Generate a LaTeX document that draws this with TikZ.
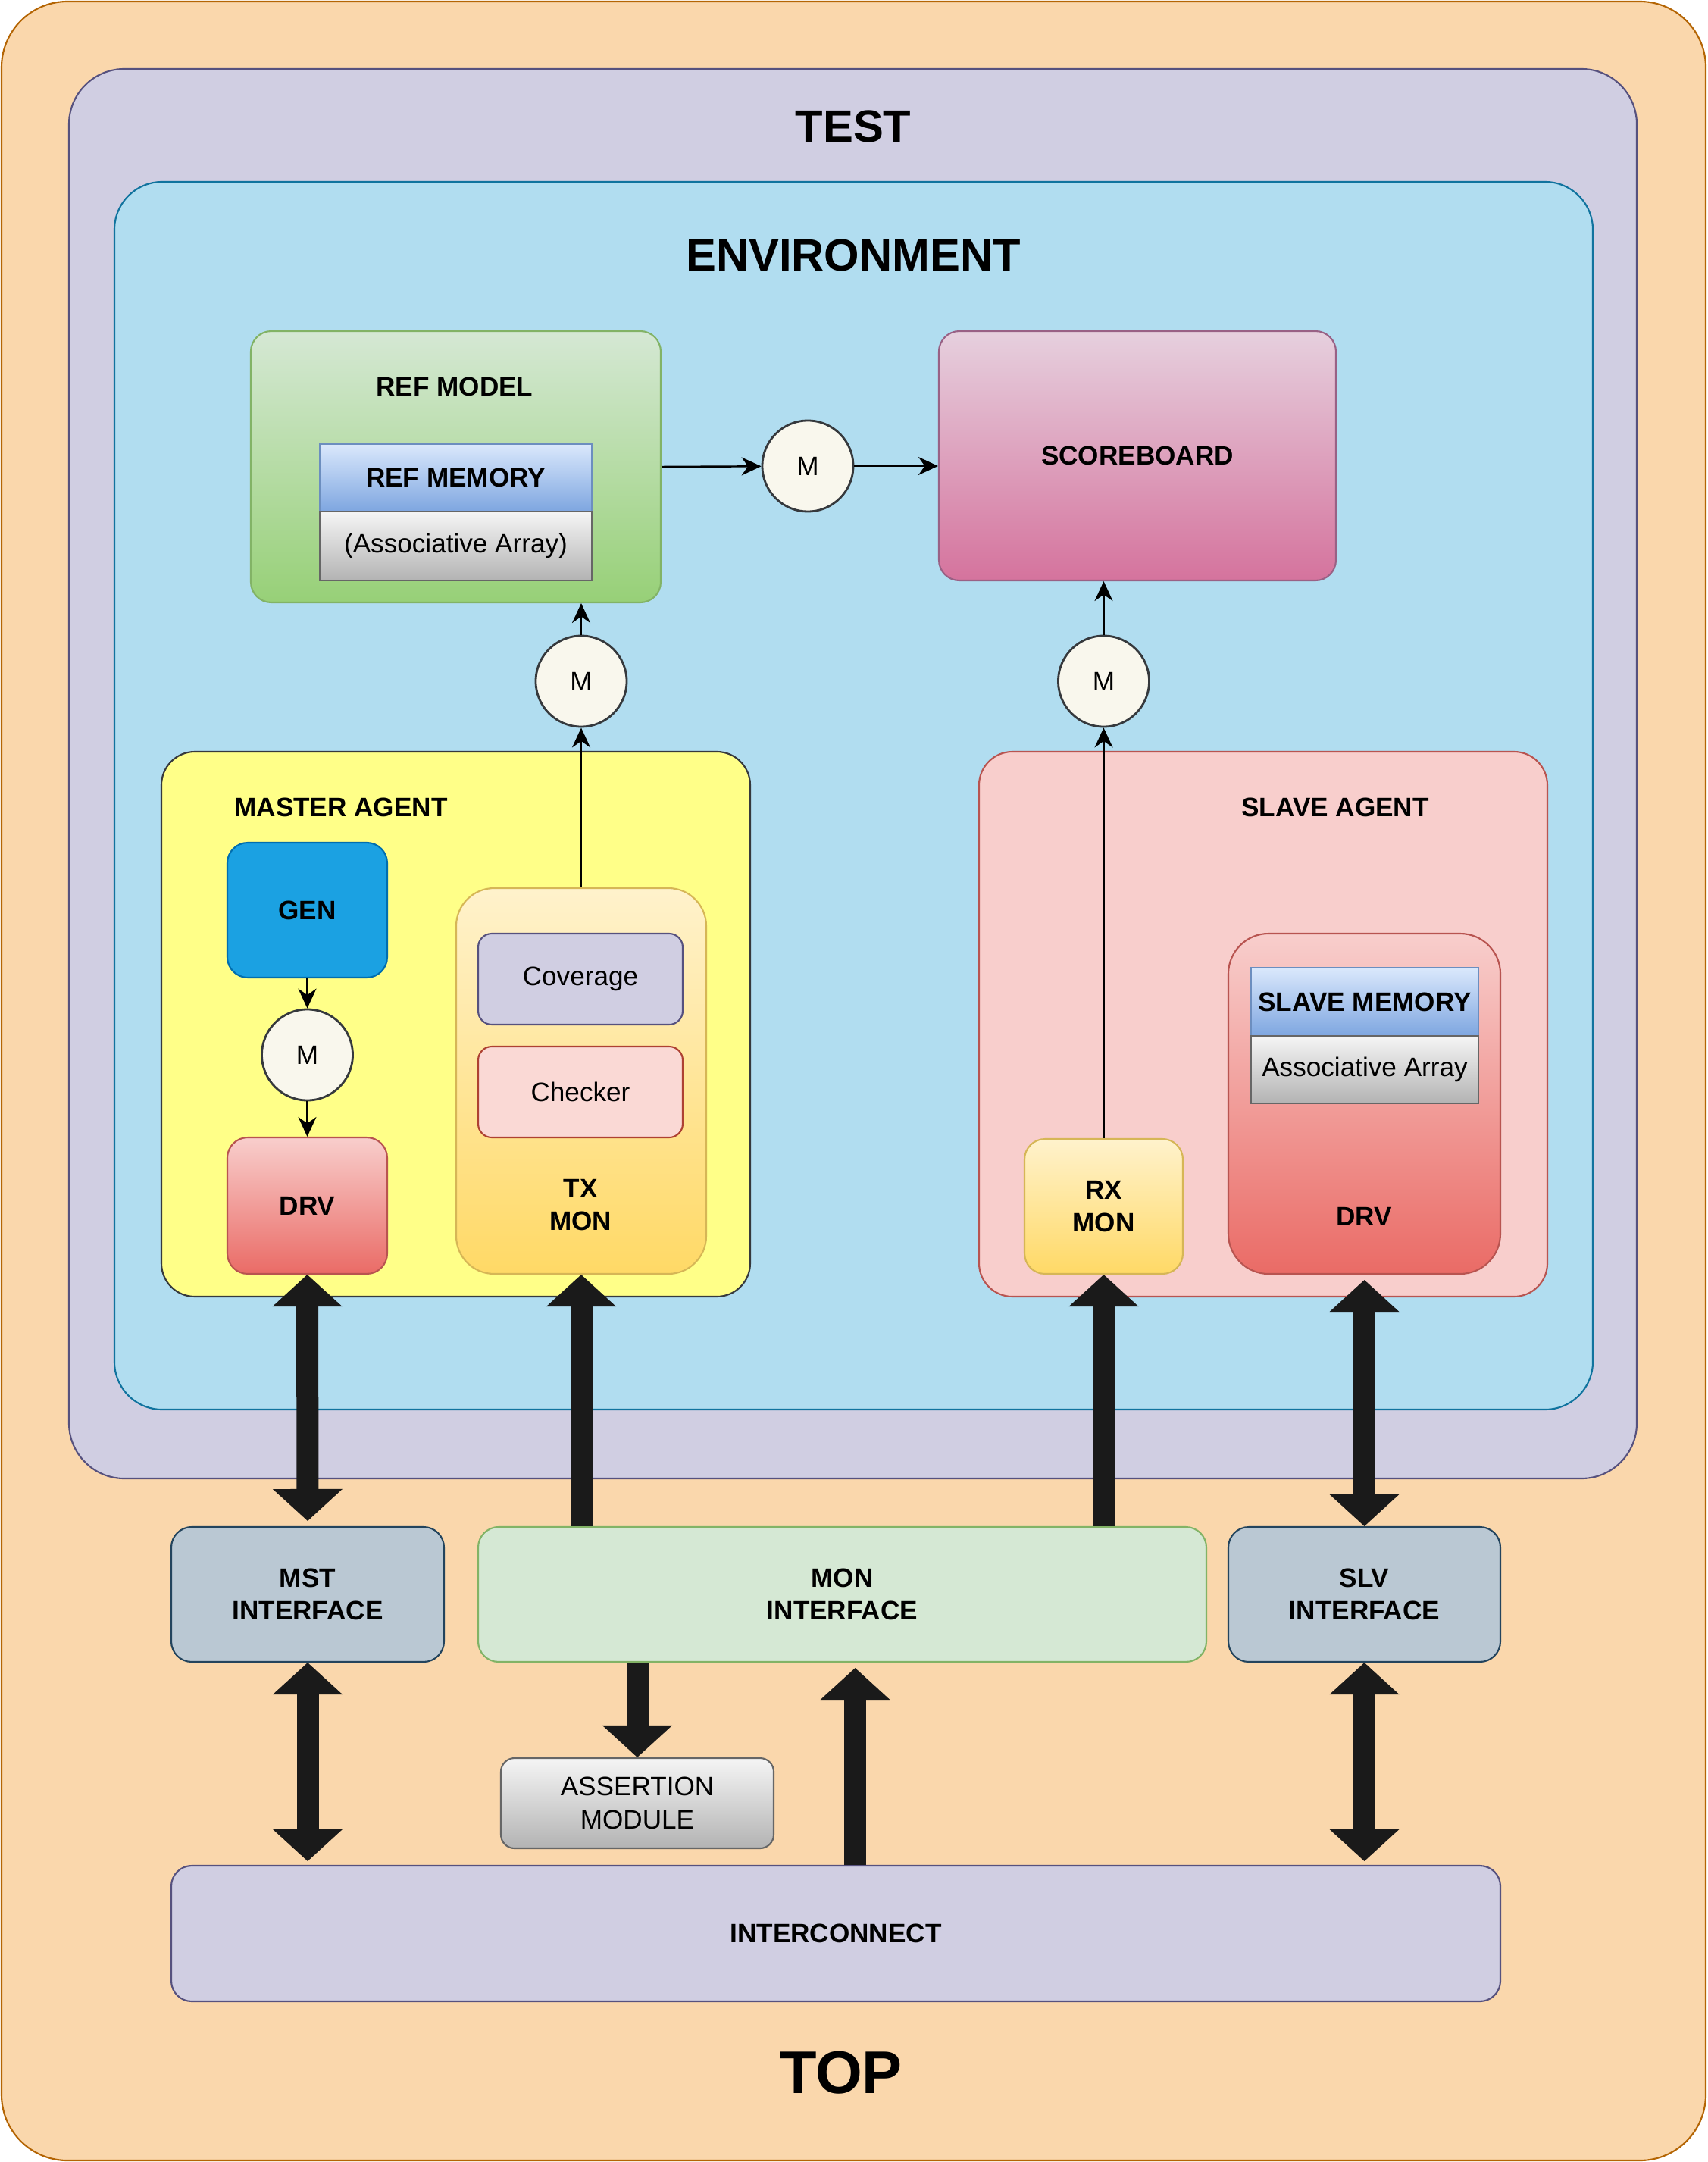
\documentclass[tikz,border=0pt]{standalone}
\usepackage{fontspec}
\setmainfont{Liberation Sans}
\usetikzlibrary{arrows.meta}
\definecolor{topfill}{HTML}{FAD7AC}
\definecolor{topline}{HTML}{B46504}
\definecolor{lilac}{HTML}{D0CEE2}
\definecolor{lilacline}{HTML}{56517E}
\definecolor{envfill}{HTML}{B1DDF0}
\definecolor{envline}{HTML}{10739E}
\definecolor{greentop}{HTML}{D5E8D4}
\definecolor{greenbot}{HTML}{97D077}
\definecolor{greenline}{HTML}{82B366}
\definecolor{bluetop}{HTML}{DAE8FC}
\definecolor{bluebot}{HTML}{7EA6E0}
\definecolor{blueline}{HTML}{6C8EBF}
\definecolor{greytop}{HTML}{F5F5F5}
\definecolor{greybot}{HTML}{B3B3B3}
\definecolor{greyline}{HTML}{666666}
\definecolor{pinktop}{HTML}{E6D0DE}
\definecolor{pinkbot}{HTML}{D5739D}
\definecolor{pinkline}{HTML}{996185}
\definecolor{yellowfill}{HTML}{FFFF88}
\definecolor{darkline}{HTML}{36393D}
\definecolor{genfill}{HTML}{1BA1E2}
\definecolor{genline}{HTML}{006EAF}
\definecolor{redtop}{HTML}{F8CECC}
\definecolor{redbot}{HTML}{EA6B66}
\definecolor{redline}{HTML}{B85450}
\definecolor{goldtop}{HTML}{FFF2CC}
\definecolor{goldbot}{HTML}{FFD966}
\definecolor{goldline}{HTML}{D6B656}
\definecolor{checkfill}{HTML}{FAD9D5}
\definecolor{checkline}{HTML}{AE4132}
\definecolor{slatefill}{HTML}{BAC8D3}
\definecolor{slateline}{HTML}{23445D}
\definecolor{circfill}{HTML}{F9F7ED}
\definecolor{busfill}{HTML}{1A1A1A}
\tikzset{
  box/.style={draw, line width=0.6pt, rounded corners=0.27cm, inner sep=0pt},
  sharpbox/.style={draw, line width=0.8pt, inner sep=0pt},
  lbl/.style={font=\fontsize{10}{12.4}\selectfont\bfseries, align=center},
  txt/.style={font=\fontsize{10}{12.4}\selectfont, align=center},
  headline/.style={font=\fontsize{17}{20}\selectfont\bfseries},
  mcirc/.style={circle, draw=darkline, fill=circfill, line width=0.8pt, minimum size=1.2cm, inner sep=0pt, txt},
  greenbox/.style={box, top color=greentop, bottom color=greenbot, draw=greenline},
  bluebox/.style={sharpbox, top color=bluetop, bottom color=bluebot, draw=blueline},
  greybox/.style={sharpbox, top color=greytop, bottom color=greybot, draw=greyline},
  redbox/.style={box, top color=redtop, bottom color=redbot, draw=redline},
  goldbox/.style={box, top color=goldtop, bottom color=goldbot, draw=goldline},
  flow/.style={line width=0.7pt, -{Stealth[length=0.26cm,width=0.24cm]}},
  bus/.style={line width=0.29cm, draw=busfill, -{Triangle[width=0.92cm,length=0.42cm,line width=0pt]}},
  busboth/.style={bus, {Triangle[width=0.92cm,length=0.42cm,line width=0pt]}-{Triangle[width=0.92cm,length=0.42cm,line width=0pt]}}
}
\begin{document}
\begin{tikzpicture}
\useasboundingbox (0,0) rectangle (22.53,-28.53);
\node[box, rounded corners=0.87cm, fill=topfill, draw=topline, minimum width=22.49cm, minimum height=28.49cm] (top) at (11.265,-14.265) {};
\node[box, rounded corners=0.73cm, fill=lilac, draw=lilacline, minimum width=20.69cm, minimum height=18.60cm] (test) at (11.255,-10.21) {};
\node[box, rounded corners=0.63cm, fill=envfill, draw=envline, minimum width=19.51cm, minimum height=16.20cm] (env) at (11.265,-10.50) {};
\node[headline] (testlbl) at (11.26,-1.67) {TEST};
\node[headline] (envlbl) at (11.26,-3.37) {ENVIRONMENT};
\node[font=\fontsize{22.6}{26}\selectfont\bfseries] (toplbl) at (11.10,-27.35) {TOP};
\node[greenbox, minimum width=5.41cm, minimum height=3.58cm] (refmodel) at (6.015,-6.16) {};
\node[lbl] (refmodellbl) at (6.00,-5.10) {REF MODEL};
\node[bluebox, lbl, minimum width=3.59cm, minimum height=0.89cm] (refmem) at (6.015,-6.305) {REF MEMORY};
\node[greybox, txt, minimum width=3.59cm, minimum height=0.91cm] (refarr) at (6.015,-7.205) {(Associative Array)};
\node[box, top color=pinktop, bottom color=pinkbot, draw=pinkline, lbl, minimum width=5.24cm, minimum height=3.29cm] (scoreboard) at (15.01,-6.015) {SCOREBOARD};
\node[mcirc] (m1) at (10.66,-6.15) {M};
\node[mcirc] (m2) at (7.67,-8.99) {M};
\node[mcirc] (m3) at (14.565,-8.99) {M};
\node[box, rounded corners=0.44cm, fill=yellowfill, draw=darkline, minimum width=7.77cm, minimum height=7.19cm] (master) at (6.015,-13.515) {};
\node[lbl] (masterlbl) at (4.50,-10.65) {MASTER AGENT};
\node[box, fill=genfill, draw=genline, lbl, minimum width=2.11cm, minimum height=1.78cm] (gen) at (4.055,-12.01) {GEN};
\node[mcirc] (m4) at (4.055,-13.92) {M};
\node[redbox, lbl, minimum width=2.11cm, minimum height=1.80cm] (drvm) at (4.055,-15.91) {DRV};
\node[goldbox, rounded corners=0.5cm, minimum width=3.30cm, minimum height=5.09cm] (txmon) at (7.67,-14.265) {};
\node[lbl] (txmonlbl) at (7.66,-15.90) {TX\\MON};
\node[box, rounded corners=0.18cm, fill=lilac, draw=lilacline, txt, minimum width=2.70cm, minimum height=1.20cm] (cov) at (7.66,-12.92) {Coverage};
\node[box, rounded corners=0.18cm, fill=checkfill, draw=checkline, txt, minimum width=2.70cm, minimum height=1.20cm] (chk) at (7.66,-14.41) {Checker};
\node[box, rounded corners=0.44cm, fill=redtop, draw=redline, minimum width=7.50cm, minimum height=7.19cm] (slave) at (16.67,-13.515) {};
\node[lbl] (slavelbl) at (17.62,-10.65) {SLAVE AGENT};
\node[goldbox, lbl, minimum width=2.09cm, minimum height=1.78cm] (rxmon) at (14.565,-15.92) {RX\\MON};
\node[redbox, rounded corners=0.53cm, minimum width=3.59cm, minimum height=4.49cm] (drvs) at (18.005,-14.565) {};
\node[lbl] (drvslbl) at (18.00,-16.05) {DRV};
\node[bluebox, lbl, minimum width=3.00cm, minimum height=0.90cm] (slvmem) at (18.01,-13.22) {SLAVE MEMORY};
\node[greybox, txt, minimum width=3.00cm, minimum height=0.89cm] (slvarr) at (18.01,-14.115) {Associative Array};
\node[box, fill=slatefill, draw=slateline, lbl, minimum width=3.60cm, minimum height=1.78cm] (mstif) at (4.06,-21.04) {MST\\INTERFACE};
\node[box, fill=greentop, draw=greenline, lbl, minimum width=9.61cm, minimum height=1.78cm] (monif) at (11.115,-21.04) {MON\\INTERFACE};
\node[box, fill=slatefill, draw=slateline, lbl, minimum width=3.59cm, minimum height=1.78cm] (slvif) at (18.005,-21.04) {SLV\\INTERFACE};
\node[box, rounded corners=0.18cm, top color=greytop, bottom color=greybot, draw=greyline, txt, minimum width=3.60cm, minimum height=1.19cm] (assert) at (8.41,-23.795) {ASSERTION\\MODULE};
\node[box, fill=lilac, draw=lilacline, lbl, minimum width=17.54cm, minimum height=1.79cm] (icon) at (11.03,-25.515) {INTERCONNECT};
\coordinate (montap) at ([xshift=0.17cm]monif.south);
\draw[flow] (refmodel.east) -- (m1);
\draw[flow] (m1) -- (m1 -| scoreboard.west);
\draw[flow] (txmon.north) -- (m2);
\draw[flow] (m2) -- (m2 |- refmodel.south);
\draw[flow] (rxmon.north) -- (m3);
\draw[flow] (m3) -- (m3 |- scoreboard.south);
\draw[flow] (gen) -- (m4);
\draw[flow] (m4) -- (drvm);
\draw[busboth, shorten >=0.07cm] (drvm.south) -- (mstif.north);
\draw[bus] (txmon.south |- monif.north) -- (txmon.south);
\draw[bus] (rxmon.south |- monif.north) -- (rxmon.south);
\draw[busboth, shorten <=0.07cm] (drvs.south) -- (slvif.north);
\draw[busboth, shorten >=0.05cm] (mstif.south) -- (mstif.south |- icon.north);
\draw[bus] (assert.north |- monif.south) -- (assert.north);
\draw[bus, shorten >=0.07cm] (montap |- icon.north) -- (montap);
\draw[busboth, shorten >=0.05cm] (slvif.south) -- (slvif.south |- icon.north);
\end{tikzpicture}
\end{document}
